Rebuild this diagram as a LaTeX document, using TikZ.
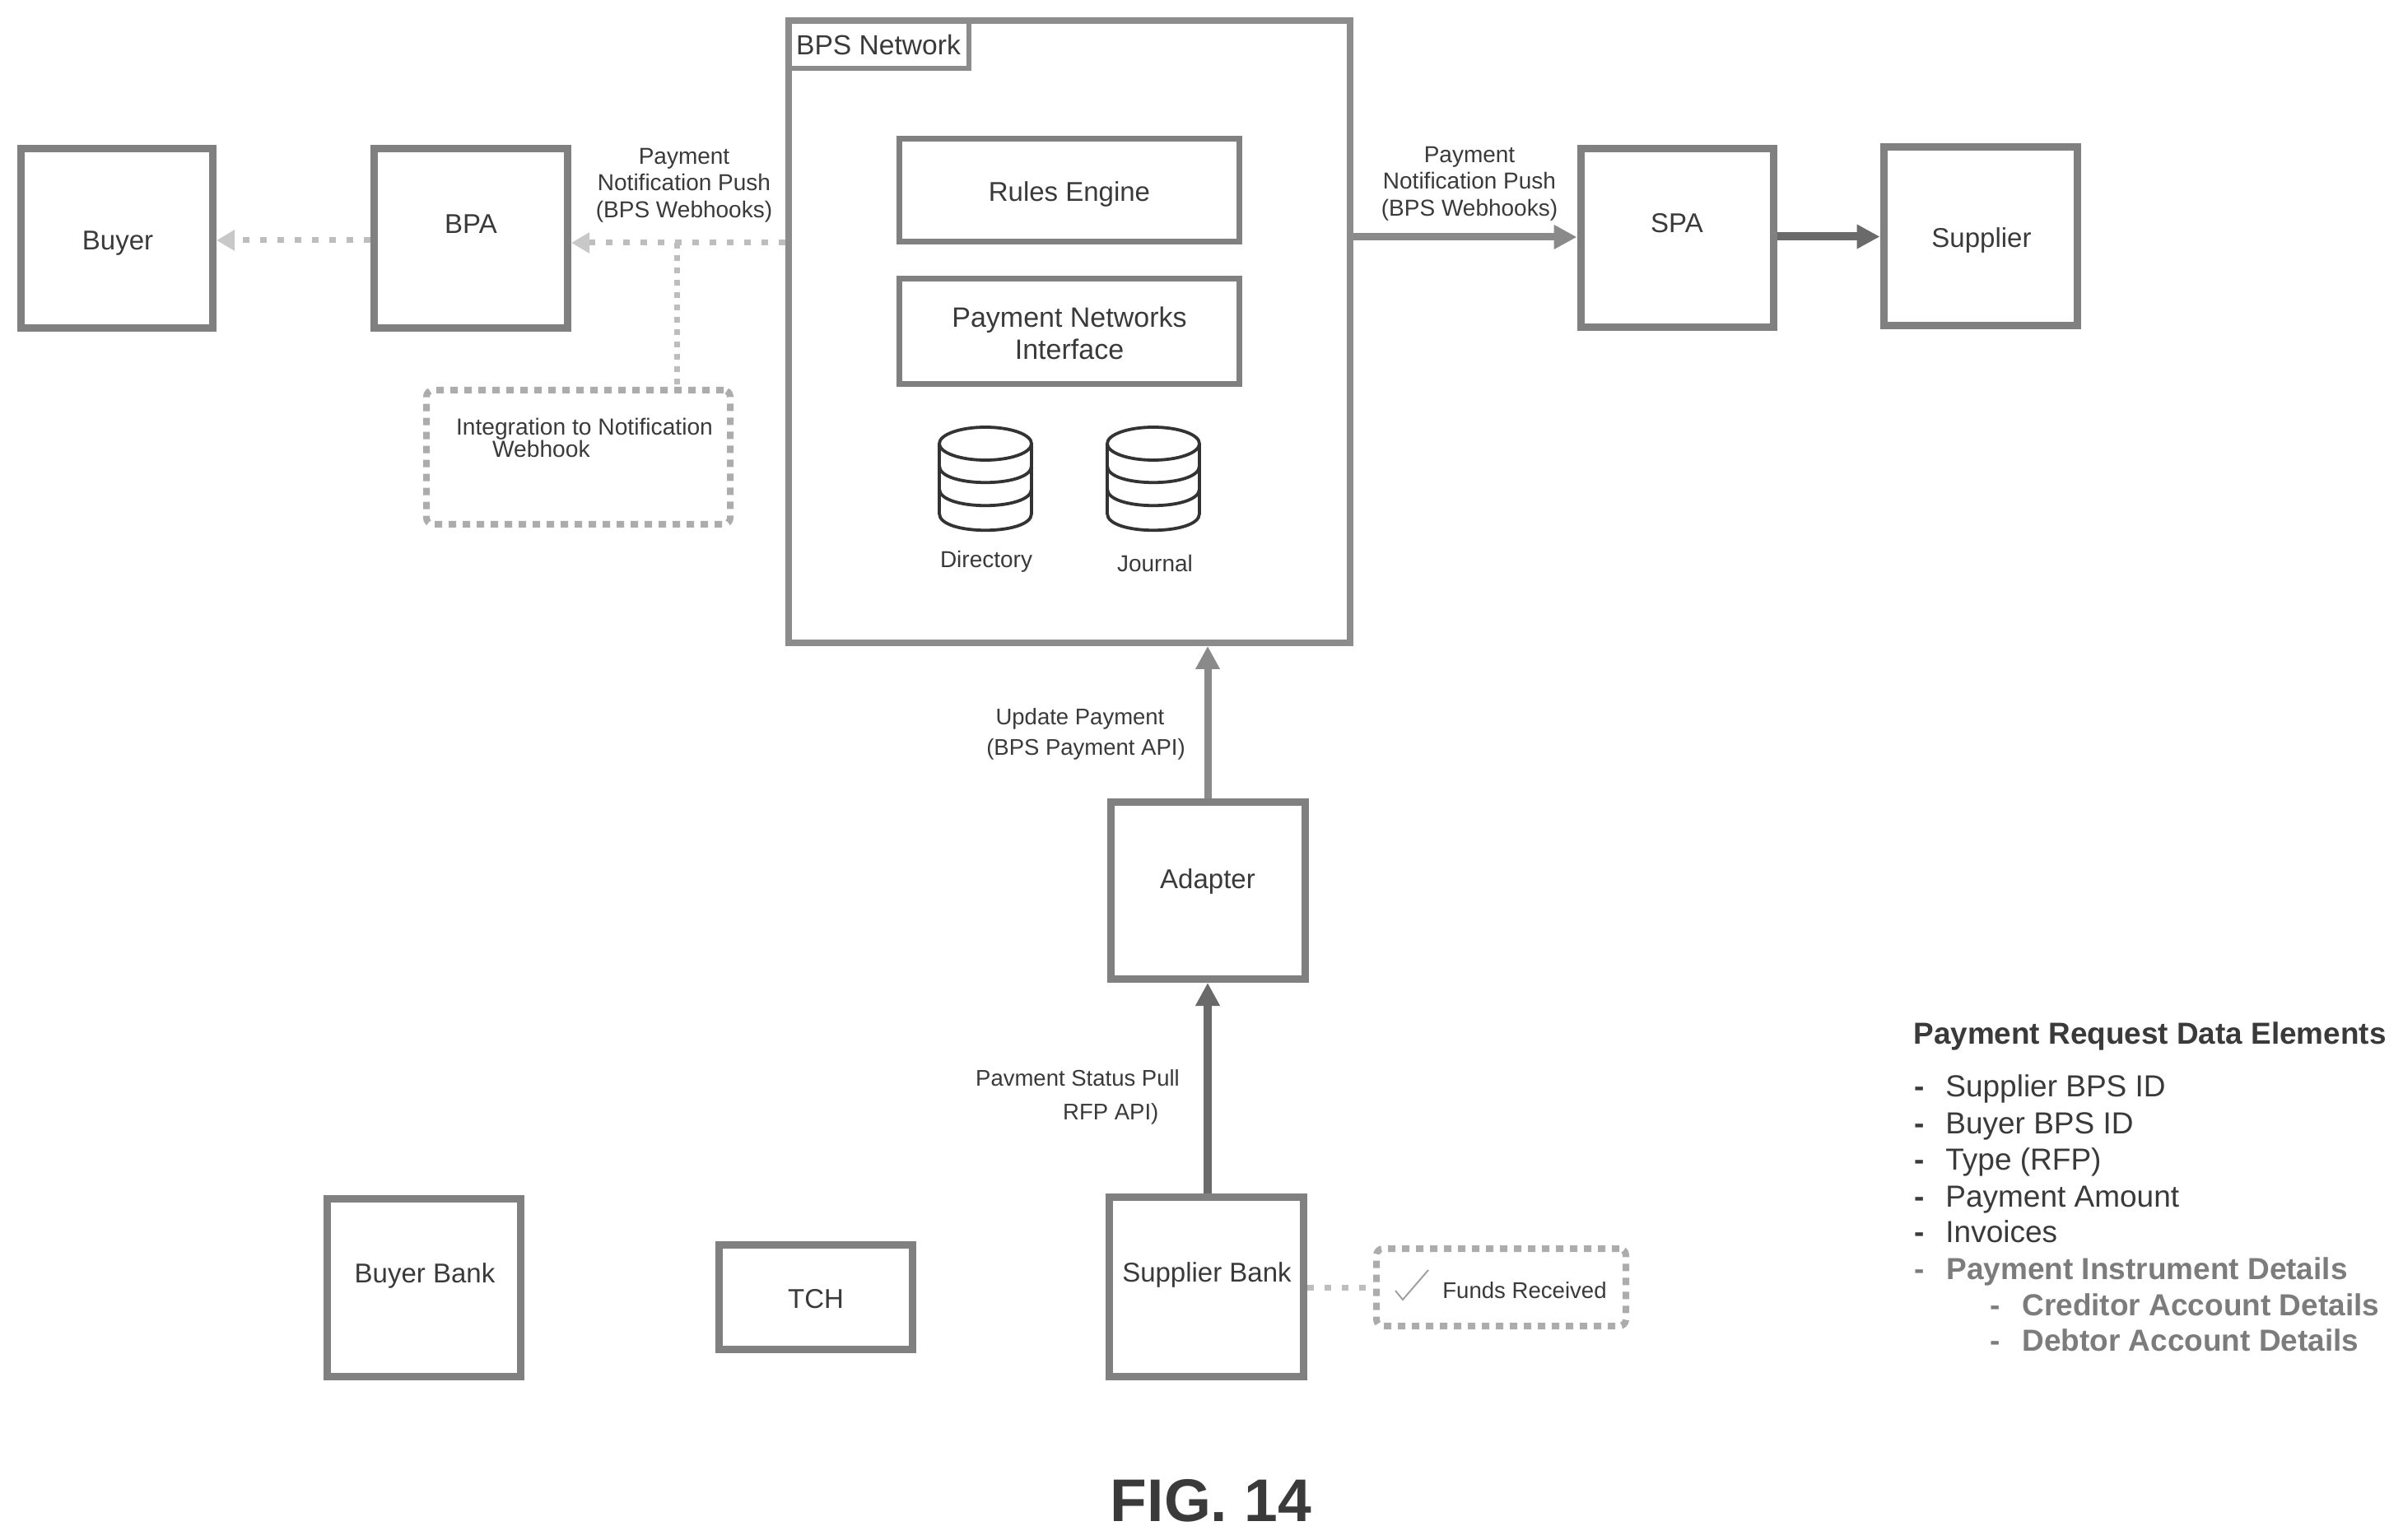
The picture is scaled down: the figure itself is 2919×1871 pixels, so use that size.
\documentclass[tikz,border=0pt]{standalone}
\usepackage{fontspec}
\setmainfont{Liberation Sans}
\usetikzlibrary{arrows.meta}
\definecolor{txt}{HTML}{3A3A3A}
\definecolor{frame}{HTML}{808080}
\definecolor{framelt}{HTML}{8C8C8C}
\definecolor{dots}{HTML}{BDBDBD}
\definecolor{dashc}{HTML}{ACACAC}
\definecolor{headlt}{HTML}{C8C8C8}
\definecolor{darkline}{HTML}{6A6A6A}
\definecolor{midline}{HTML}{8A8A8A}
\definecolor{softtxt}{HTML}{7C7C7C}
\newcommand{\fs}[2]{\fontsize{#1}{#2}\selectfont}
\tikzset{
  every node/.style={inner sep=0pt,text=txt},
  wh/.style 2 args={minimum width=#1*0.5pt,minimum height=#2*0.5pt},
  bx/.style={draw=frame,line width=4.5pt,rectangle,font=\fs{16.5}{19}},
  inbx/.style={draw=frame,line width=3.5pt,rectangle,align=center,font=\fs{17}{19.5}},
  lab/.style={font=\fs{14}{16.3},align=center},
  main/.style={font=\fs{16.5}{19}},
  dashbx/.style={draw=dashc,line width=4pt,rounded corners=4pt,dash pattern=on 4.5pt off 4pt,rectangle},
  dotline/.style={draw=dots,line width=3.5pt,dash pattern=on 4pt off 6.5pt},
  dotlinev/.style={draw=dots,line width=3.5pt,dash pattern=on 3.5pt off 4pt},
  softhead/.style={-{Triangle[length=11pt,width=12pt,fill=headlt,color=headlt]}},
  mid/.style={draw=midline,line width=4.5pt,-{Triangle[length=14pt,width=14pt,color=midline,fill=midline]}},
  dark/.style={draw=darkline,line width=5pt,-{Triangle[length=14pt,width=14pt,color=darkline,fill=darkline]}},
  lst/.style={anchor=base west,font=\fs{18.5}{21}},
  lstdash/.style={anchor=base west,font=\fs{18.5}{21}\bfseries},
  lstsoft/.style={anchor=base west,font=\fs{18.5}{21}\bfseries,text=softtxt},
  dbcyl/.pic={
    \draw[line width=1.9pt,draw=black!80] (0,0) ellipse [x radius=56,y radius=20];
    \draw[line width=1.9pt,draw=black!80] (-56,0) -- (-56,85) .. controls (-56,112) and (56,112) .. (56,85) -- (56,0);
    \draw[line width=1.9pt,draw=black!80] (-56,27) .. controls (-56,54) and (56,54) .. (56,27);
    \draw[line width=1.9pt,draw=black!80] (-56,55) .. controls (-56,82) and (56,82) .. (56,55);
  }
}
\begin{document}
\begin{tikzpicture}[x=0.5pt,y=-0.5pt]
\useasboundingbox (0,0) rectangle (2919,1871);
% main boxes
\node[bx,wh={233}{218}] (buyer) at (142,289.5) {};
\node[main] (buyert) at (143,296) {Buyer};
\node[bx,wh={235}{218}] (bpa) at (572,289.5) {};
\node[main] (bpat) at (572,272) {BPA};
\node[draw=framelt,line width=4pt,rectangle,wh={682}{756}] (bps) at (1299,403) {};
\node[draw=framelt,line width=3pt,rectangle,wh={220}{58},font=\fs{16.8}{19}] (bpslab) at (1067,54) {BPS Network};
\node[inbx,wh={413}{125}] (rules) at (1299,231) {};
\node[font=\fs{16.5}{19}] (rulest) at (1299,236) {Rules Engine};
\node[inbx,wh={413}{128}] (pni) at (1299,402.5) {};
\node[font=\fs{17}{19.5},align=center] (pnit) at (1299,405) {Payment Networks\\Interface};
\pic at (1197,539) {dbcyl};
\pic at (1401,539) {dbcyl};
\node[lab] (dirt) at (1198,682) {Directory};
\node[lab] (jrnt) at (1403,684) {Journal};
\node[bx,wh={234}{217}] (spa) at (2037,289.5) {};
\node[main] (spat) at (2037,271) {SPA};
\node[bx,wh={235}{217}] (supplier) at (2405.5,287.5) {};
\node[main] (suppliert) at (2407,292) {Supplier};
\node[bx,wh={236}{215}] (adapter) at (1467,1082) {};
\node[main] (adaptert) at (1467,1071) {Adapter};
\node[bx,wh={236}{218}] (bank) at (1465.5,1563.5) {};
\node[main] (bankt) at (1466,1549) {Supplier Bank};
\node[bx,wh={235}{216}] (buyerbank) at (515,1564) {};
\node[main] (buyerbankt) at (516,1550) {Buyer Bank};
\node[bx,wh={235}{127}] (tch) at (991,1576) {};
\node[main] (tcht) at (991,1578) {TCH};
% dashed boxes
\node[dashbx,wh={369}{163}] (integ) at (702.5,555.5) {};
\node[align=left,font=\fs{14.1}{13.5}] (integt) at (710,531.5) {Integration to Notification\\\hspace*{22pt}Webhook};
\node[dashbx,wh={303}{94}] (funds) at (1823.5,1564) {};
\node[lab,font=\fs{13.8}{16}] (fundst) at (1852,1568) {Funds Received};
\draw[draw=midline!80,line width=1pt] (1695,1568) -- (1704,1579) -- (1735,1543);
% connectors
\coordinate (c1) at (822,295);
\coordinate (c2) at (400,292);
\coordinate (c3) at (1800,288);
\draw[dotline,softhead] (bps.west |- c1) -- (bpa.east |- c1);
\draw[dotline,softhead] (bpa.west |- c2) -- (buyer.east |- c2);
\draw[dotlinev] (c1) -- (integ.north -| c1);
\draw[dotline] (bank.east |- funds.west) -- (funds.west);
\draw[mid] (bps.east |- c3) -- (spa.west |- c3);
\draw[dark] (spa.east |- supplier.east) -- (supplier.west);
\draw[mid] (adapter.north) -- (adapter.north |- bps.south);
\draw[dark] (bank.north -| adapter.north) -- (adapter.south);
% labels
\node[lab] (l1) at (831,225) {Payment\\Notification Push\\(BPS Webhooks)};
\node[lab] (l2) at (1785,223) {Payment\\Notification Push\\(BPS Webhooks)};
\node[lab,font=\fs{13.75}{18.5}] (l3) at (1319,892) {Update Payment\hspace*{7pt}\\(BPS Payment API)};
\node[lab,align=left,font=\fs{13.75}{20.5}] (l4) at (1309,1333) {Pavment Status Pull\\\hspace*{53pt}RFP API)};
% list
\node[anchor=base west,font=\fs{18.45}{21}\bfseries] (ltitle) at (2324,1268) {Payment Request Data Elements};
\node[lstdash] (d1) at (2325,1332) {-}; \node[lst] (t1) at (2363,1332) {Supplier BPS ID};
\node[lstdash] (d2) at (2325,1377) {-}; \node[lst] (t2) at (2363,1377) {Buyer BPS ID};
\node[lstdash] (d3) at (2325,1421) {-}; \node[lst] (t3) at (2363,1421) {Type (RFP)};
\node[lstdash] (d4) at (2325,1466) {-}; \node[lst] (t4) at (2363,1466) {Payment Amount};
\node[lstdash] (d5) at (2325,1509) {-}; \node[lst] (t5) at (2363,1509) {Invoices};
\node[lstsoft] (d6) at (2325,1554) {-}; \node[lstsoft] (t6) at (2364,1554) {Payment Instrument Details};
\node[lstsoft] (d7) at (2417,1598) {-}; \node[lstsoft] (t7) at (2456,1598) {Creditor Account Details};
\node[lstsoft] (d8) at (2417,1641) {-}; \node[lstsoft] (t8) at (2456,1641) {Debtor Account Details};
\node[font=\fs{36.6}{40}\bfseries] (fig) at (1471,1823) {FIG. 14};
\end{tikzpicture}
\end{document}
